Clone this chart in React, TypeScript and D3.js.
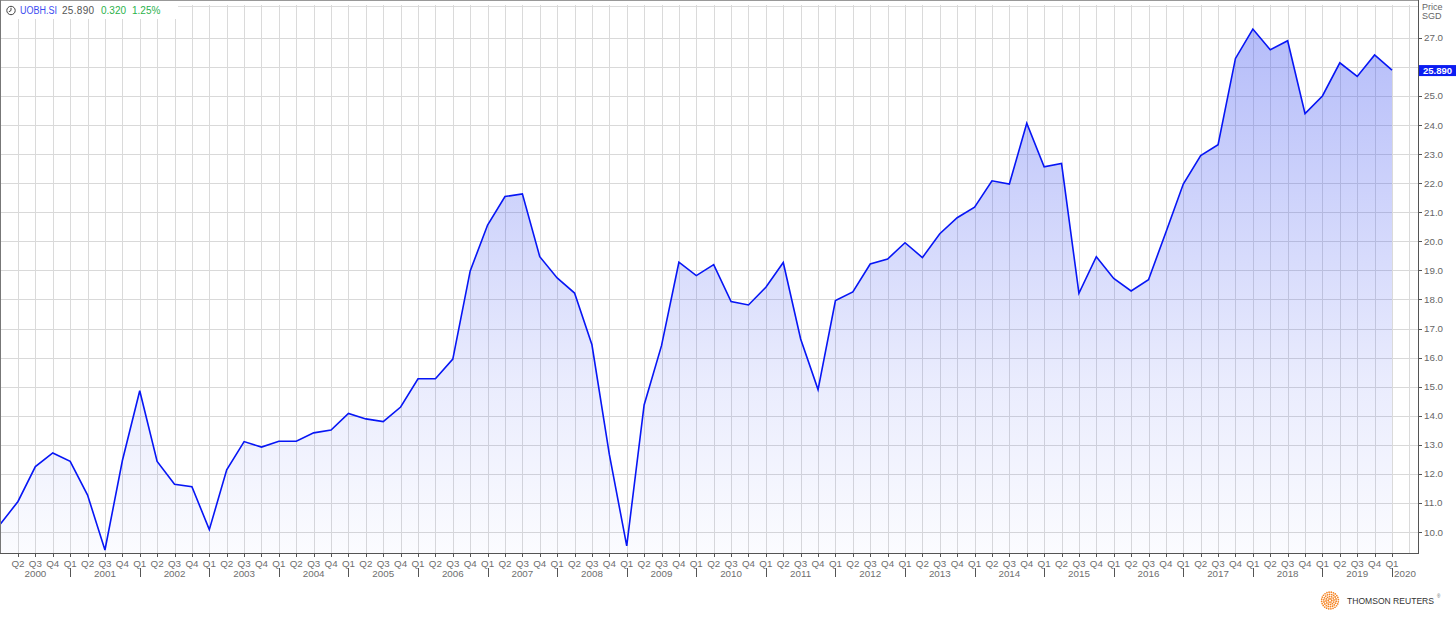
import React from "react";
import * as d3 from "d3";

const years = [2000, 2001, 2002, 2003, 2004, 2005, 2006, 2007, 2008, 2009, 2010, 2011, 2012, 2013, 2014, 2015, 2016, 2017, 2018, 2019, 2020];
const quarterNames = ["Q1", "Q2", "Q3", "Q4"];
// quarterly closing prices, Q1 2000 .. Q1 2020
const prices = [
  10.28, 11.05, 12.25, 12.72,
  12.43, 11.27, 9.38, 12.45,
  14.86, 12.43, 11.64, 11.56,
  10.08, 12.14, 13.11, 12.92,
  13.12, 13.12, 13.41, 13.51,
  14.08, 13.89, 13.8, 14.3,
  15.27, 15.27, 15.95, 18.98,
  20.56, 21.54, 21.63, 19.47,
  18.74, 18.22, 16.44, 12.67,
  9.52, 14.37, 16.41, 19.28,
  18.82, 19.2, 17.93, 17.81,
  18.42, 19.27, 16.64, 14.9,
  17.96, 18.26, 19.22, 19.39,
  19.95, 19.44, 20.26, 20.81,
  21.17, 22.08, 21.97, 24.06,
  22.56, 22.68, 18.21, 19.47,
  18.72, 18.29, 18.68, 20.31,
  21.97, 22.95, 23.32, 26.29,
  27.3, 26.59, 26.9, 24.39,
  25.0, 26.14, 25.67, 26.41,
  25.89,
];
const yTicks = [10, 11, 12, 13, 14, 15, 16, 17, 18, 19, 20, 21, 22, 23, 24, 25, 26, 27];
const ticker = "UOBH.SI";
const lastPrice = "25.890";
const change = "0.320";
const changePct = "1.25%";

const W = 1456;
const H = 624;
const plotRight = 1418;
const plotBottom = 553;
const FONT = "'Liberation Sans', Arial, sans-serif";

export default function App() {
  const x = d3.scaleLinear().domain([0, 80]).range([0.6, 1392]);
  const y = d3.scaleLinear().domain([10, 27]).range([532, 37.8]);

  const pts = prices.map((v, i) => ({ i, v }));
  const line = d3.line<{ i: number; v: number }>().x((d) => x(d.i)).y((d) => y(d.v));
  const area = d3
    .area<{ i: number; v: number }>()
    .x((d) => x(d.i))
    .y0(plotBottom)
    .y1((d) => y(d.v));

  const gridIdx = d3.range(1, 82);
  const labelIdx = d3.range(1, 81);
  const last = prices[prices.length - 1];
  const tagY = y(last);

  // dots for logo
  const logoDots: { cx: number; cy: number; r: number }[] = [];
  const rings = [
    { r: 1.8, n: 6, s: 0.9 },
    { r: 4.0, n: 12, s: 0.9 },
    { r: 6.2, n: 18, s: 0.9 },
    { r: 8.4, n: 24, s: 0.85 },
  ];
  rings.forEach((rg, k) => {
    for (let j = 0; j < rg.n; j++) {
      const a = (j / rg.n) * Math.PI * 2 + k * 0.4;
      logoDots.push({ cx: 1330 + rg.r * Math.cos(a), cy: 600.5 + rg.r * Math.sin(a), r: rg.s });
    }
  });

  return (
    <svg
      width={W}
      height={H}
      style={{ position: "absolute", left: 0, top: 0, background: "#fff" }}
      fontFamily={FONT}
    >
      <defs>
        <linearGradient id="fillGrad" gradientUnits="userSpaceOnUse" x1="0" y1="29" x2="0" y2={plotBottom}>
          <stop offset="0" stopColor="rgb(60,80,240)" stopOpacity={0.38} />
          <stop offset="0.3" stopColor="rgb(60,80,240)" stopOpacity={0.26} />
          <stop offset="0.67" stopColor="rgb(60,80,240)" stopOpacity={0.11} />
          <stop offset="1" stopColor="rgb(60,80,240)" stopOpacity={0.02} />
        </linearGradient>
      </defs>

      {/* horizontal grid */}
      {yTicks.map((t) => (
        <line key={"h" + t} x1={0} x2={plotRight} y1={Math.round(y(t)) + 0.5} y2={Math.round(y(t)) + 0.5} stroke="#d9d9d9" strokeWidth={1} />
      ))}
      <line x1={0} x2={plotRight} y1={6.5} y2={6.5} stroke="#dcdcdc" strokeWidth={1} />
      {/* vertical grid */}
      {gridIdx.map((i) => (
        <line key={"v" + i} x1={Math.round(x(i)) + 0.5} x2={Math.round(x(i)) + 0.5} y1={5} y2={plotBottom} stroke="#dadada" strokeWidth={1} />
      ))}

      {/* area + line */}
      <path d={area(pts) || ""} fill="url(#fillGrad)" />
      <path d={line(pts) || ""} fill="none" stroke="#0716f5" strokeWidth={1.6} strokeLinejoin="miter" />

      {/* frame */}
      <line x1={0} x2={plotRight} y1={0.5} y2={0.5} stroke="#999" strokeWidth={1} />
      <line x1={0.5} x2={0.5} y1={0} y2={plotBottom} stroke="#777" strokeWidth={1} />
      <line x1={0} x2={plotRight + 0.5} y1={plotBottom + 0.5} y2={plotBottom + 0.5} stroke="#555" strokeWidth={1} />
      <line x1={plotRight + 0.5} x2={plotRight + 0.5} y1={0} y2={plotBottom + 1} stroke="#555" strokeWidth={1} />

      {/* legend */}
      <rect x={1} y={1} width={177} height={18} fill="#fff" />
      <g stroke="#444" strokeWidth={1} fill="none">
        <circle cx={11} cy={10.5} r={4.2} />
        <polyline points="11,7.8 11,10.5 8.8,11.8" />
      </g>
      <text x={20} y={14} fontSize={10} fill="#3b4cf0" textLength={37} lengthAdjust="spacingAndGlyphs">{ticker}</text>
      <text x={62} y={14} fontSize={10} fill="#555" letterSpacing={0.3}>{lastPrice}</text>
      <text x={101} y={14} fontSize={10} fill="#2bb24c">{change}</text>
      <text x={132} y={14} fontSize={10} fill="#2bb24c">{changePct}</text>

      {/* bottom axis ticks and labels */}
      {labelIdx.map((i) => (
        <line key={"t" + i} x1={Math.round(x(i)) + 0.5} x2={Math.round(x(i)) + 0.5} y1={plotBottom} y2={plotBottom + 4} stroke="#555" strokeWidth={1} />
      ))}
      {labelIdx.map((i) => (
        <text key={"q" + i} x={x(i)} y={567} fontSize={9.8} fill="#6e6e6e" textAnchor="middle">
          {quarterNames[i % 4]}
        </text>
      ))}
      {years.map((yr, k) => {
        const a = x(k * 4);
        const b = Math.min(x(k * 4 + 4), plotRight);
        return (
          <text key={"y" + yr} x={(a + b) / 2} y={576.5} fontSize={9.8} fill="#6e6e6e" textAnchor="middle">
            {yr}
          </text>
        );
      })}
      {years.slice(1).map((yr, k) => (
        <line key={"s" + yr} x1={Math.round(x((k + 1) * 4)) + 0.5} x2={Math.round(x((k + 1) * 4)) + 0.5} y1={568} y2={577} stroke="#555" strokeWidth={1} />
      ))}

      {/* right axis */}
      {yTicks.map((t) => (
        <g key={"r" + t}>
          <line x1={plotRight} x2={plotRight + 4} y1={Math.round(y(t)) + 0.5} y2={Math.round(y(t)) + 0.5} stroke="#555" strokeWidth={1} />
          {Math.abs(y(t) - tagY) > 8 && (
            <text x={plotRight + 6} y={y(t) + 3.5} fontSize={9.8} fill="#666">
              {t.toFixed(1)}
            </text>
          )}
        </g>
      ))}
      <text x={plotRight + 4} y={10} fontSize={9} fill="#666">Price</text>
      <text x={plotRight + 4} y={19} fontSize={9} fill="#666">SGD</text>

      {/* last price tag */}
      <rect x={plotRight + 1} y={tagY - 5} width={37} height={11} fill="#0b1cf2" />
      <text x={plotRight + 19.5} y={tagY + 3.5} fontSize={9.5} fontWeight="bold" fill="#fff" textAnchor="middle">
        {lastPrice}
      </text>

      {/* logo */}
      <g fill="#f5821f">
        {logoDots.map((d, k) => (
          <circle key={"d" + k} cx={d.cx} cy={d.cy} r={d.r} />
        ))}
      </g>
      <text x={1347} y={604} fontSize={9} fill="#333" textLength={87} lengthAdjust="spacingAndGlyphs">
        THOMSON REUTERS
      </text>
      <text x={1437} y={598} fontSize={4.5} fill="#666">®</text>
    </svg>
  );
}
